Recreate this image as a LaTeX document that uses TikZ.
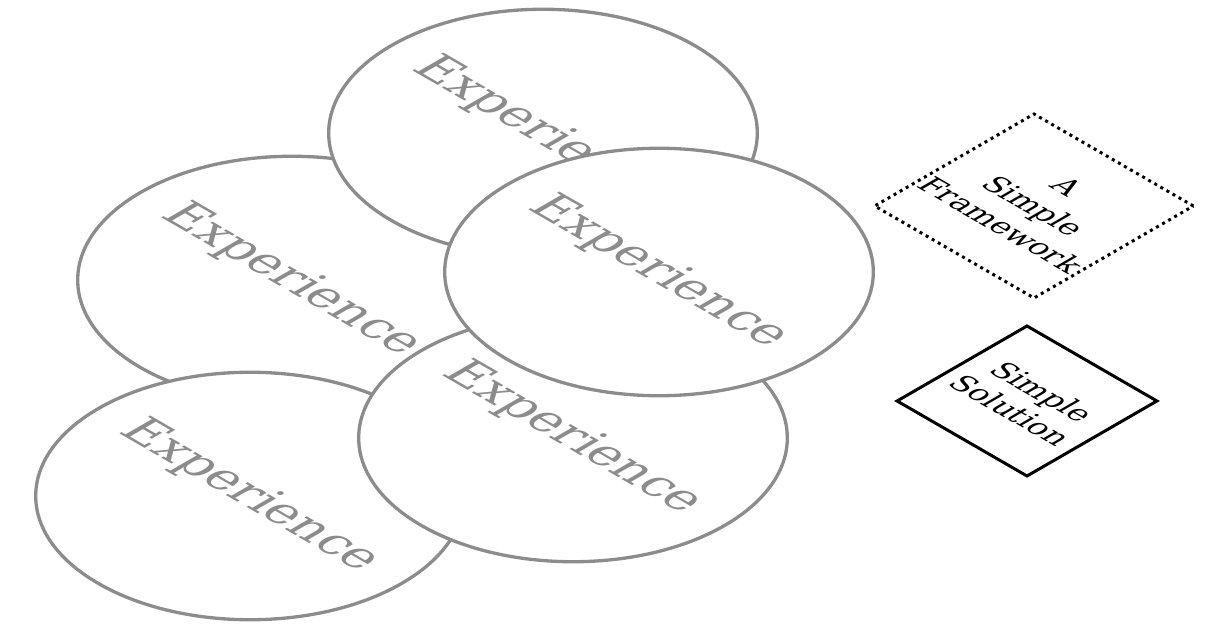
\documentclass[tikz,border=0pt]{standalone}
\usepackage{fontspec}
\setmainfont{DejaVu Serif}
\definecolor{egray}{RGB}{140,140,140}
\begin{document}
\begin{tikzpicture}[x=1pt,y=-1pt,
  iso/.style={transform shape, cm={0.866,-0.5,0.866,0.5,(0,0)}},
  expnode/.style={circle, draw=egray, fill=white, line width=3.3pt,
    minimum size=350pt, inner sep=0pt, text=egray,
    font=\fontsize{49}{56}\selectfont, iso},
  framebox/.style={rectangle, draw=black, line width=3pt, fill=white,
    inner sep=0pt, align=center, iso}
]
\useasboundingbox (0,0) rectangle (1232,628);
\begin{scope}[shift={(292,280)}]
  \node[expnode] (e2) at (0,0) {Experience};
\end{scope}
\begin{scope}[shift={(543,133)}]
  \node[expnode] (e1) at (0,0) {Experience};
\end{scope}
\begin{scope}[shift={(250,496)}]
  \node[expnode] (e5) at (0,0) {Experience};
\end{scope}
\begin{scope}[shift={(573,438)}]
  \node[expnode] (e4) at (0,0) {Experience};
\end{scope}
\begin{scope}[shift={(659,272)}]
  \node[expnode] (e3) at (0,0) {Experience};
\end{scope}
\begin{scope}[shift={(1034,206)}]
  \node[framebox, minimum size=184pt, dash pattern=on 3pt off 4pt,
    font=\fontsize{30}{38}\selectfont] (d1) at (0,0) {A\\Simple\\Framework};
\end{scope}
\begin{scope}[shift={(1027,401)}]
  \node[framebox, minimum size=150pt,
    font=\fontsize{30}{37}\selectfont] (d2) at (0,0) {Simple\\Solution};
\end{scope}
\end{tikzpicture}
\end{document}
